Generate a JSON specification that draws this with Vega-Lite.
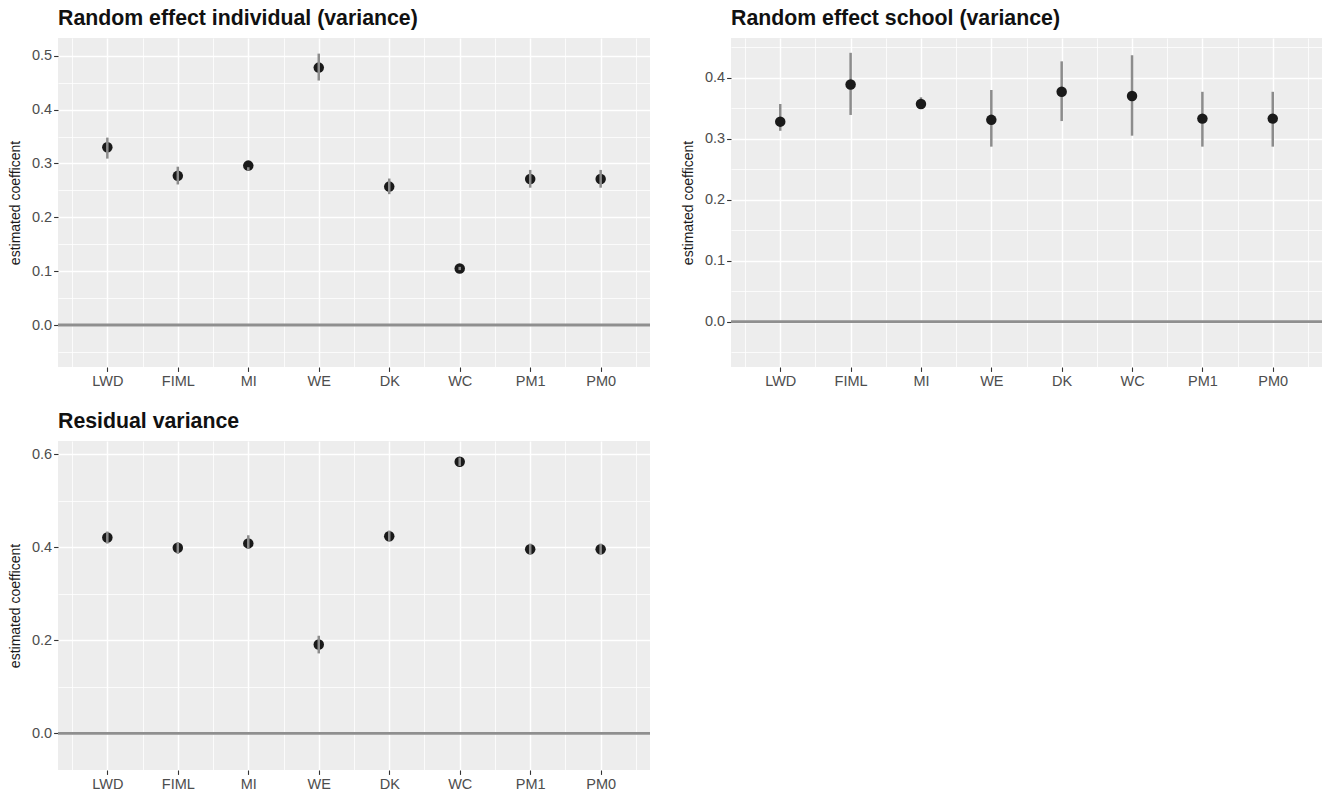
{
  "$schema": "https://vega.github.io/schema/vega-lite/v6.json",
  "padding": {"left": 8, "top": 7, "right": 0, "bottom": 0},
  "background": "white",
  "datasets": {
    "ind": [
      {"method": "LWD", "idx": 1, "est": 0.330, "lo": 0.309, "hi": 0.348},
      {"method": "FIML", "idx": 2, "est": 0.277, "lo": 0.261, "hi": 0.294},
      {"method": "MI", "idx": 3, "est": 0.296, "lo": 0.287, "hi": 0.293},
      {"method": "WE", "idx": 4, "est": 0.478, "lo": 0.454, "hi": 0.504},
      {"method": "DK", "idx": 5, "est": 0.257, "lo": 0.243, "hi": 0.272},
      {"method": "WC", "idx": 6, "est": 0.105, "lo": 0.102, "hi": 0.108},
      {"method": "PM1", "idx": 7, "est": 0.271, "lo": 0.255, "hi": 0.288},
      {"method": "PM0", "idx": 8, "est": 0.271, "lo": 0.255, "hi": 0.288}
    ],
    "school": [
      {"method": "LWD", "idx": 1, "est": 0.328, "lo": 0.313, "hi": 0.357},
      {"method": "FIML", "idx": 2, "est": 0.389, "lo": 0.339, "hi": 0.441},
      {"method": "MI", "idx": 3, "est": 0.357, "lo": 0.352, "hi": 0.368},
      {"method": "WE", "idx": 4, "est": 0.331, "lo": 0.287, "hi": 0.380},
      {"method": "DK", "idx": 5, "est": 0.377, "lo": 0.329, "hi": 0.427},
      {"method": "WC", "idx": 6, "est": 0.370, "lo": 0.305, "hi": 0.437},
      {"method": "PM1", "idx": 7, "est": 0.333, "lo": 0.287, "hi": 0.377},
      {"method": "PM0", "idx": 8, "est": 0.333, "lo": 0.287, "hi": 0.377}
    ],
    "resid": [
      {"method": "LWD", "idx": 1, "est": 0.421, "lo": 0.408, "hi": 0.434},
      {"method": "FIML", "idx": 2, "est": 0.399, "lo": 0.386, "hi": 0.411},
      {"method": "MI", "idx": 3, "est": 0.4085, "lo": 0.397, "hi": 0.426},
      {"method": "WE", "idx": 4, "est": 0.191, "lo": 0.172, "hi": 0.210},
      {"method": "DK", "idx": 5, "est": 0.424, "lo": 0.414, "hi": 0.436},
      {"method": "WC", "idx": 6, "est": 0.584, "lo": 0.575, "hi": 0.593},
      {"method": "PM1", "idx": 7, "est": 0.396, "lo": 0.385, "hi": 0.408},
      {"method": "PM0", "idx": 8, "est": 0.396, "lo": 0.385, "hi": 0.408}
    ]
  },
  "vconcat": [
    {
      "hconcat": [
        {
          "data": {"name": "ind"},
          "width": 592,
          "height": 329,
          "title": {"text": "Random effect individual (variance)"},
          "layer": [
            {"data": {"values": [{}]}, "mark": {"type": "rule", "color": "#8f8f8f", "strokeWidth": 2.8}, "encoding": {"y": {"datum": 0, "type": "quantitative"}}},
            {
              "mark": {"type": "circle", "color": "#1a1a1a", "opacity": 1, "size": 110},
              "encoding": {
                "x": {"field": "idx", "type": "quantitative", "scale": {"domain": [0.3, 8.7], "nice": false, "zero": false},
                  "axis": {"title": null, "tickCount": 100, "values": [0.5, 1, 1.5, 2, 2.5, 3, 3.5, 4, 4.5, 5, 5.5, 6, 6.5, 7, 7.5, 8, 8.5],
                    "labelExpr": "datum.value % 1 === 0 ? ['LWD','FIML','MI','WE','DK','WC','PM1','PM0'][datum.value - 1] : ''",
                    "gridWidth": {"condition": {"test": "datum.value % 1 === 0", "value": 1.5}, "value": 0.75},
                    "tickOpacity": {"condition": {"test": "datum.value % 1 === 0", "value": 1}, "value": 0},
                    "labelPadding": 3}},
                "y": {"field": "est", "type": "quantitative", "scale": {"domain": [-0.078, 0.533], "nice": false, "zero": false},
                  "axis": {"title": "estimated coefficent", "tickCount": 100, "values": [-0.05, 0, 0.05, 0.1, 0.15, 0.2, 0.25, 0.3, 0.35, 0.4, 0.45, 0.5],
                    "labelExpr": "abs(datum.value * 10 - round(datum.value * 10)) < 0.001 ? format(datum.value, '.1f') : ''",
                    "gridWidth": {"condition": {"test": "abs(datum.value * 10 - round(datum.value * 10)) < 0.001", "value": 1.5}, "value": 0.75},
                    "tickOpacity": {"condition": {"test": "abs(datum.value * 10 - round(datum.value * 10)) < 0.001", "value": 1}, "value": 0}}}
              }
            },
            {
              "mark": {"type": "rule", "color": "#8c8c8c", "strokeWidth": 2.5},
              "encoding": {"x": {"field": "idx", "type": "quantitative"}, "y": {"field": "lo", "type": "quantitative"}, "y2": {"field": "hi"}}
            }
          ]
        },
        {
          "data": {"name": "school"},
          "width": 591,
          "height": 329,
          "title": {"text": "Random effect school (variance)"},
          "layer": [
            {"data": {"values": [{}]}, "mark": {"type": "rule", "color": "#8f8f8f", "strokeWidth": 2.8}, "encoding": {"y": {"datum": 0, "type": "quantitative"}}},
            {
              "mark": {"type": "rule", "color": "#8c8c8c", "strokeWidth": 2.5},
              "encoding": {
                "x": {"field": "idx", "type": "quantitative", "scale": {"domain": [0.3, 8.7], "nice": false, "zero": false},
                  "axis": {"title": null, "tickCount": 100, "values": [0.5, 1, 1.5, 2, 2.5, 3, 3.5, 4, 4.5, 5, 5.5, 6, 6.5, 7, 7.5, 8, 8.5],
                    "labelExpr": "datum.value % 1 === 0 ? ['LWD','FIML','MI','WE','DK','WC','PM1','PM0'][datum.value - 1] : ''",
                    "gridWidth": {"condition": {"test": "datum.value % 1 === 0", "value": 1.5}, "value": 0.75},
                    "tickOpacity": {"condition": {"test": "datum.value % 1 === 0", "value": 1}, "value": 0},
                    "labelPadding": 3}},
                "y": {"field": "lo", "type": "quantitative", "scale": {"domain": [-0.0746, 0.4653], "nice": false, "zero": false},
                  "axis": {"title": "estimated coefficent", "tickCount": 100, "values": [-0.05, 0, 0.05, 0.1, 0.15, 0.2, 0.25, 0.3, 0.35, 0.4, 0.45],
                    "labelExpr": "abs(datum.value * 10 - round(datum.value * 10)) < 0.001 ? format(datum.value, '.1f') : ''",
                    "gridWidth": {"condition": {"test": "abs(datum.value * 10 - round(datum.value * 10)) < 0.001", "value": 1.5}, "value": 0.75},
                    "tickOpacity": {"condition": {"test": "abs(datum.value * 10 - round(datum.value * 10)) < 0.001", "value": 1}, "value": 0}}},
                "y2": {"field": "hi"}
              }
            },
            {
              "mark": {"type": "circle", "color": "#1a1a1a", "opacity": 1, "size": 110},
              "encoding": {"x": {"field": "idx", "type": "quantitative"}, "y": {"field": "est", "type": "quantitative"}}
            }
          ]
        }
      ],
      "spacing": 29
    },
    {
      "data": {"name": "resid"},
      "width": 592,
      "height": 329,
      "title": {"text": "Residual variance"},
      "layer": [
        {"data": {"values": [{}]}, "mark": {"type": "rule", "color": "#8f8f8f", "strokeWidth": 2.8}, "encoding": {"y": {"datum": 0, "type": "quantitative"}}},
        {
          "mark": {"type": "circle", "color": "#1a1a1a", "opacity": 1, "size": 110},
          "encoding": {
            "x": {"field": "idx", "type": "quantitative", "scale": {"domain": [0.3, 8.7], "nice": false, "zero": false},
              "axis": {"title": null, "tickCount": 100, "values": [0.5, 1, 1.5, 2, 2.5, 3, 3.5, 4, 4.5, 5, 5.5, 6, 6.5, 7, 7.5, 8, 8.5],
                "labelExpr": "datum.value % 1 === 0 ? ['LWD','FIML','MI','WE','DK','WC','PM1','PM0'][datum.value - 1] : ''",
                "gridWidth": {"condition": {"test": "datum.value % 1 === 0", "value": 1.5}, "value": 0.75},
                "tickOpacity": {"condition": {"test": "datum.value % 1 === 0", "value": 1}, "value": 0},
                "labelPadding": 3}},
            "y": {"field": "est", "type": "quantitative", "scale": {"domain": [-0.0786, 0.6286], "nice": false, "zero": false},
              "axis": {"title": "estimated coefficent", "tickCount": 100, "values": [0, 0.1, 0.2, 0.3, 0.4, 0.5, 0.6],
                "labelExpr": "abs(datum.value * 5 - round(datum.value * 5)) < 0.001 ? format(datum.value, '.1f') : ''",
                "gridWidth": {"condition": {"test": "abs(datum.value * 5 - round(datum.value * 5)) < 0.001", "value": 1.5}, "value": 0.75},
                "tickOpacity": {"condition": {"test": "abs(datum.value * 5 - round(datum.value * 5)) < 0.001", "value": 1}, "value": 0}}}
          }
        },
        {
          "mark": {"type": "rule", "color": "#8c8c8c", "strokeWidth": 2.5},
          "encoding": {"x": {"field": "idx", "type": "quantitative"}, "y": {"field": "lo", "type": "quantitative"}, "y2": {"field": "hi"}}
        }
      ]
    }
  ],
  "spacing": 22,
  "config": {
    "view": {"fill": "#EDEDED", "stroke": null},
    "title": {"anchor": "start", "frame": "group", "fontSize": 21.3, "fontWeight": "bold", "font": "Liberation Sans", "color": "#111111", "offset": 9, "baseline": "alphabetic"},
    "axis": {
      "labelFont": "Liberation Sans", "labelFontSize": 14.5, "labelColor": "#4D4D4D",
      "titleFont": "Liberation Sans", "titleFontSize": 14, "titleFontWeight": "normal", "titleColor": "#1a1a1a", "titlePadding": 9,
      "domain": false, "grid": true, "gridColor": "#FFFFFF",
      "tickColor": "#333333", "tickSize": 4.4, "tickWidth": 1.1,
      "labelPadding": 2, "labelFlush": false, "labelOverlap": false
    }
  }
}
